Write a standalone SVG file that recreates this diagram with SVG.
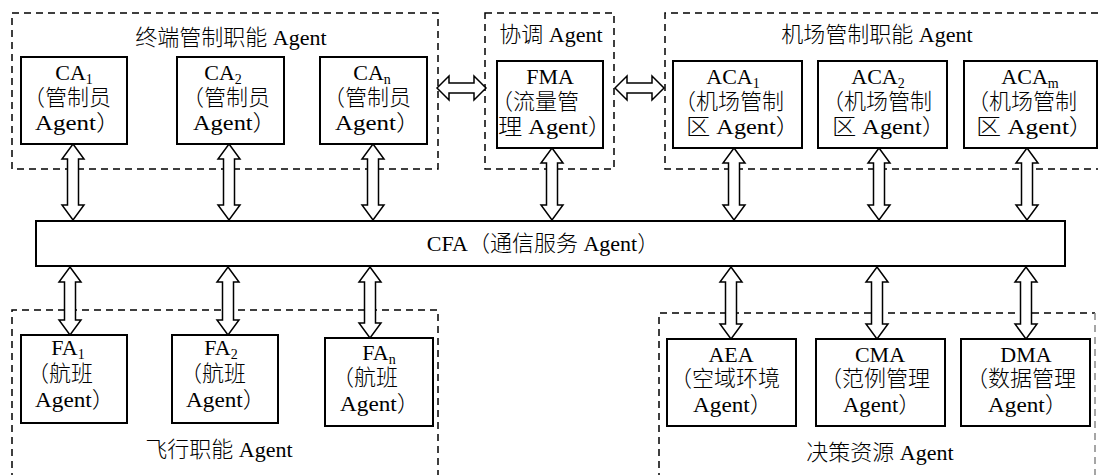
<svg xmlns="http://www.w3.org/2000/svg" width="1098" height="475" viewBox="0 0 1098 475">
<style>
.g{fill:none;stroke:#000;stroke-width:1.5;stroke-dasharray:7 5}
.b{fill:#fff;stroke:#000;stroke-width:2}
.a{fill:#fff;stroke:#000;stroke-width:1.5;stroke-linejoin:miter}
.t{font-family:"Liberation Serif","Noto Sans CJK SC",serif;font-size:22px;font-weight:300;fill:#000}
.m{text-anchor:middle}
.s{font-size:14px}
</style>
<rect width="1098" height="475" fill="#fff"/>
<g id="group-terminal">
<rect class="g" x="12" y="13" width="426" height="156"/>
<text class="t m" x="231" y="45">终端管制职能 Agent</text>
</g>
<g id="group-coord">
<rect class="g" x="485" y="13" width="129" height="156"/>
<text class="t m" x="551" y="42">协调 Agent</text>
</g>
<g id="group-airport">
<path class="g" d="M1110,13 H665 V169 H1110"/>
<text class="t m" x="877" y="42">机场管制职能 Agent</text>
</g>
<g id="group-flight">
<path class="g" d="M12,480 V310 H438 V480"/>
<text class="t m" x="219" y="457">飞行职能 Agent</text>
</g>
<g id="group-decision">
<path class="g" d="M659,480 V313 H1095"/>
<path class="g" style="stroke:#888" d="M1095,313 V480"/>
<text class="t m" x="880" y="460">决策资源 Agent</text>
</g>
<g id="connectors">
<polygon class="a" points="73,144 84,159 78.5,159 78.5,205 84,205 73,220 62,205 67.5,205 67.5,159 62,159"/>
<polygon class="a" points="229,144 240,159 234.5,159 234.5,205 240,205 229,220 218,205 223.5,205 223.5,159 218,159"/>
<polygon class="a" points="373,144 384,159 378.5,159 378.5,205 384,205 373,220 362,205 367.5,205 367.5,159 362,159"/>
<polygon class="a" points="552,148 563,163 557.5,163 557.5,205 563,205 552,220 541,205 546.5,205 546.5,163 541,163"/>
<polygon class="a" points="734,148 745,163 739.5,163 739.5,205 745,205 734,220 723,205 728.5,205 728.5,163 723,163"/>
<polygon class="a" points="879,148 890,163 884.5,163 884.5,205 890,205 879,220 868,205 873.5,205 873.5,163 868,163"/>
<polygon class="a" points="1027,148 1038,163 1032.5,163 1032.5,205 1038,205 1027,220 1016,205 1021.5,205 1021.5,163 1016,163"/>
<polygon class="a" points="70,267 81,282 75.5,282 75.5,320 81,320 70,335 59,320 64.5,320 64.5,282 59,282"/>
<polygon class="a" points="228,267 239,282 233.5,282 233.5,320 239,320 228,335 217,320 222.5,320 222.5,282 217,282"/>
<polygon class="a" points="370,267 381,282 375.5,282 375.5,323 381,323 370,338 359,323 364.5,323 364.5,282 359,282"/>
<polygon class="a" points="731,267 742,282 736.5,282 736.5,324 742,324 731,339 720,324 725.5,324 725.5,282 720,282"/>
<polygon class="a" points="877,267 888,282 882.5,282 882.5,324 888,324 877,339 866,324 871.5,324 871.5,282 866,282"/>
<polygon class="a" points="1026,267 1037,282 1031.5,282 1031.5,324 1037,324 1026,339 1015,324 1020.5,324 1020.5,282 1015,282"/>
<polygon class="a" points="437,88 449,76 449,83 474,83 474,76 486,88 474,100 474,93 449,93 449,100"/>
<polygon class="a" points="615,88 627,76 627,83 652,83 652,76 664,88 652,100 652,93 627,93 627,100"/>
</g>
<g id="CA1">
<rect class="b" x="21" y="57" width="106" height="87"/>
<text class="t m" x="74" y="80">CA<tspan class="s" dy="4">1</tspan></text>
<text class="t" x="23" y="105">（管制员</text>
<text class="t" x="35" y="130" textLength="86" lengthAdjust="spacingAndGlyphs">Agent）</text>
</g>
<g id="CA2">
<rect class="b" x="177" y="57" width="107" height="87"/>
<text class="t m" x="223" y="80">CA<tspan class="s" dy="4">2</tspan></text>
<text class="t" x="182" y="105">（管制员</text>
<text class="t" x="193" y="130" textLength="84" lengthAdjust="spacingAndGlyphs">Agent）</text>
</g>
<g id="CAn">
<rect class="b" x="320" y="57" width="107" height="87"/>
<text class="t m" x="372" y="80">CA<tspan class="s" dy="4">n</tspan></text>
<text class="t" x="323" y="105">（管制员</text>
<text class="t" x="335" y="130" textLength="86" lengthAdjust="spacingAndGlyphs">Agent）</text>
</g>
<g id="FMA">
<rect class="b" x="497" y="61" width="106" height="87"/>
<text class="t m" x="550" y="84">FMA</text>
<text class="t" x="491" y="109">（流量管</text>
<text class="t" x="498" y="134" textLength="114" lengthAdjust="spacingAndGlyphs">理 Agent）</text>
</g>
<g id="ACA1">
<rect class="b" x="673" y="61" width="129" height="87"/>
<text class="t m" x="733" y="84">ACA<tspan class="s" dy="4">1</tspan></text>
<text class="t" x="674" y="109">（机场管制</text>
<text class="t" x="686" y="134" textLength="114" lengthAdjust="spacingAndGlyphs">区 Agent）</text>
</g>
<g id="ACA2">
<rect class="b" x="818" y="61" width="129" height="87"/>
<text class="t m" x="878" y="84">ACA<tspan class="s" dy="4">2</tspan></text>
<text class="t" x="822" y="109">（机场管制</text>
<text class="t" x="832" y="134" textLength="114" lengthAdjust="spacingAndGlyphs">区 Agent）</text>
</g>
<g id="ACAm">
<rect class="b" x="964" y="61" width="133" height="87"/>
<text class="t m" x="1030" y="84">ACA<tspan class="s" dy="4">m</tspan></text>
<text class="t" x="967" y="109">（机场管制</text>
<text class="t" x="976" y="134" textLength="118" lengthAdjust="spacingAndGlyphs">区 Agent）</text>
</g>
<g id="CFA">
<rect class="b" x="36" y="221" width="1029" height="45"/>
<text class="t m" x="543" y="251">CFA（通信服务 Agent）</text>
</g>
<g id="FA1">
<rect class="b" x="21" y="335" width="106" height="88"/>
<text class="t m" x="68" y="355">FA<tspan class="s" dy="4">1</tspan></text>
<text class="t" x="27" y="381">（航班</text>
<text class="t" x="35" y="407" textLength="80" lengthAdjust="spacingAndGlyphs">Agent）</text>
</g>
<g id="FA2">
<rect class="b" x="172" y="335" width="106" height="88"/>
<text class="t m" x="221" y="355">FA<tspan class="s" dy="4">2</tspan></text>
<text class="t" x="180" y="381">（航班</text>
<text class="t" x="186" y="407" textLength="80" lengthAdjust="spacingAndGlyphs">Agent）</text>
</g>
<g id="FAn">
<rect class="b" x="325" y="338" width="108" height="88"/>
<text class="t m" x="379" y="360">FA<tspan class="s" dy="4">n</tspan></text>
<text class="t" x="332" y="385">（航班</text>
<text class="t" x="340" y="411" textLength="80" lengthAdjust="spacingAndGlyphs">Agent）</text>
</g>
<g id="AEA">
<rect class="b" x="667" y="339" width="129" height="87"/>
<text class="t m" x="731" y="362">AEA</text>
<text class="t" x="670" y="386">（空域环境</text>
<text class="t" x="693" y="412" textLength="80" lengthAdjust="spacingAndGlyphs">Agent）</text>
</g>
<g id="CMA">
<rect class="b" x="816" y="339" width="129" height="87"/>
<text class="t m" x="880" y="362">CMA</text>
<text class="t" x="820" y="386">（范例管理</text>
<text class="t" x="843" y="412" textLength="78" lengthAdjust="spacingAndGlyphs">Agent）</text>
</g>
<g id="DMA">
<rect class="b" x="961" y="339" width="129" height="87"/>
<text class="t m" x="1026" y="362">DMA</text>
<text class="t" x="966" y="386">（数据管理</text>
<text class="t" x="988" y="412" textLength="80" lengthAdjust="spacingAndGlyphs">Agent）</text>
</g>
</svg>
